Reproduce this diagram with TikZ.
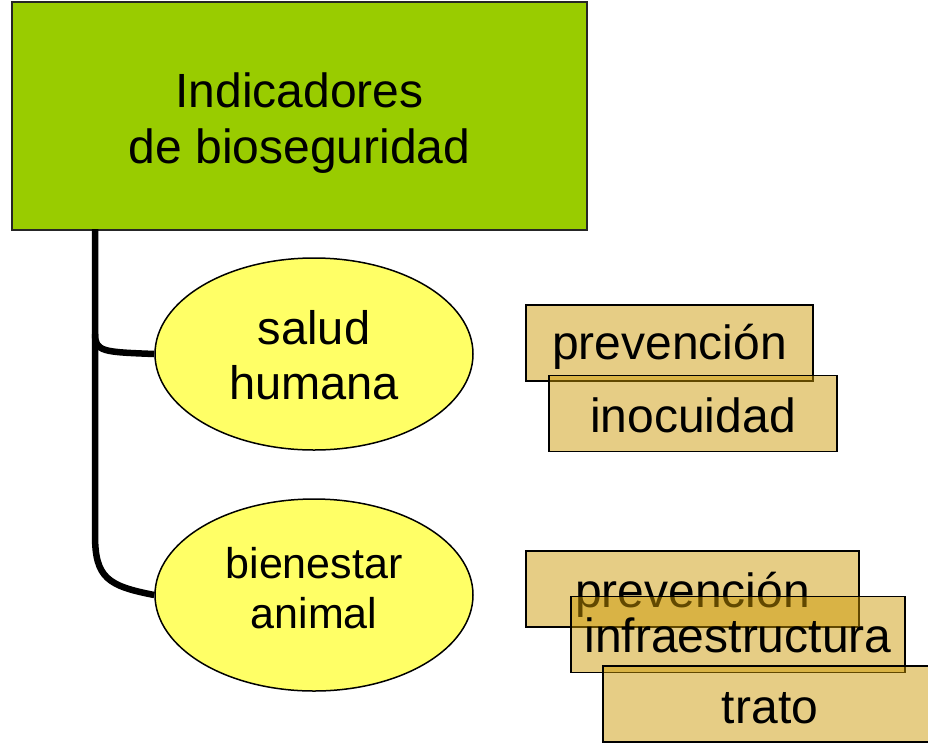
\documentclass[tikz,border=0pt]{standalone}
\usepackage{fontspec}
\setmainfont{Liberation Sans}
\usetikzlibrary{shapes.geometric}
\definecolor{green1}{RGB}{153,204,0}
\definecolor{yellow1}{RGB}{255,255,102}
\definecolor{tan1}{RGB}{203,151,0}
% move content down by #1 without changing the box size
\newcommand{\shiftdn}[2]{\raisebox{-#1}[\height][\depth]{#2}}
\newcommand{\twolines}[2]{\begin{tabular}{@{}c@{}}#1\\#2\end{tabular}}
\begin{document}
\begin{tikzpicture}[x=1pt,y=-1pt,
 topbox/.style={draw=black!85, line width=1.5pt, fill=green1, minimum width=575pt, minimum height=228pt, inner sep=0pt, font=\fontsize{48}{56}\selectfont},
 oval/.style={ellipse, draw, line width=1.5pt, fill=yellow1, minimum width=318pt, minimum height=192pt, inner sep=0pt},
 tag/.style={draw, line width=1.5pt, fill=tan1, fill opacity=0.48, text opacity=1, minimum height=76pt, inner sep=0pt, font=\fontsize{48}{56}\selectfont},
 link/.style={line width=6.5pt}]
\useasboundingbox (0,0) rectangle (928,742);
\clip (0,0) rectangle (928,742);

\node[topbox] (top) at (299.5,116) {\shiftdn{8pt}{\twolines{Indicadores}{de bioseguridad}}};

\node[oval, font=\fontsize{47}{55}\selectfont] (salud) at (314,354) {\shiftdn{7pt}{\twolines{salud}{humana}}};
\node[oval, font=\fontsize{43}{50}\selectfont] (bien) at (314,595) {\shiftdn{-2pt}{\twolines{bienestar}{animal}}};

\node[tag, minimum width=287pt] (prev1) at (669.5,343) {\shiftdn{4pt}{prevención}};
\node[tag, minimum width=288pt] (inoc) at (693,413.5) {\shiftdn{2pt}{inocuidad}};

\node[tag, minimum width=333pt] (prev2) at (692.5,589) {\shiftdn{6pt}{prevención}};
\node[tag, minimum width=334pt] (infra) at (738,634.5) {\shiftdn{1pt}{infraestructura}};
\node[tag, minimum width=334pt] (trato) at (770,704) {\shiftdn{4pt}{trato}};

\coordinate (trunk) at (95,229);
\coordinate (fork) at (95,334);
\coordinate (bend) at (95,535);

\draw[link] (trunk) -- (bend) .. controls (95,578) and (108,586) .. (bien.west);
\draw[link] (fork) .. controls (95,352) and (104,352) .. (salud.west);
\end{tikzpicture}
\end{document}
